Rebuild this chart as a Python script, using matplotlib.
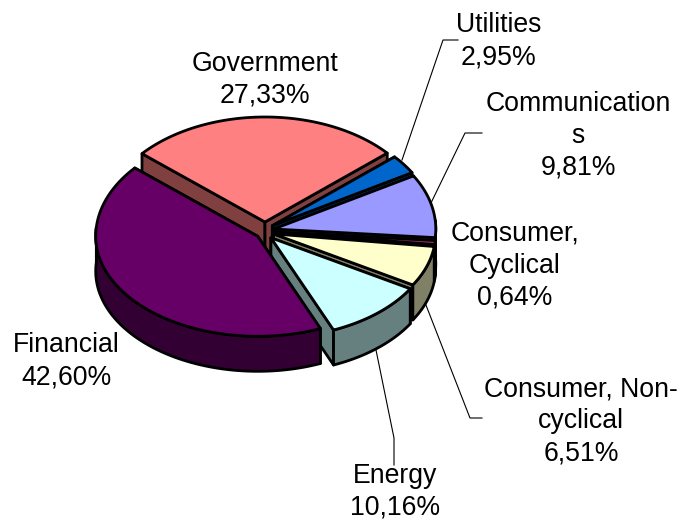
import numpy as np
import matplotlib
matplotlib.use("Agg")
import matplotlib.pyplot as plt

plt.rcParams['font.family'] = ['Liberation Sans', 'DejaVu Sans']

names = ["Utilities", "Communication\ns", "Consumer,\nCyclical", "Consumer, Non-\ncyclical",
         "Energy", "Financial", "Government"]
values = [2.95, 9.81, 0.64, 6.51, 10.16, 42.60, 27.33]
top_colors = ["#0066CC", "#9999FF", "#993366", "#FFFFCC", "#CCFFFF", "#660066", "#FF8080"]
side_colors = ["#003366", "#4D4D80", "#4D1A33", "#808066", "#668080", "#330033", "#804040"]
label_xy = [(499, 41), (578, 136), (515, 266), (581, 421), (395, 492), (66, 361), (265, 80)]
leaders = [[(458, 40), (443, 40), (402, 160)],
           [(482, 133), (465, 133), (430, 205)],
           [(424, 300), (470, 418), (482, 418)],
           [(376, 350), (394, 438), (394, 465)]]

START = 49.0
CX, CY = 265.0, 231.0
RX, RY_BACK, RY_FRONT = 162.0, 105.0, 100.0
EXPLODE = 9.0
DEPTH = 35.0
DRAW_ORDER = [6, 0, 1, 2, 3, 4, 5]

fig = plt.figure(figsize=(6.81, 5.2), dpi=100)
ax = fig.add_axes([0, 0, 1, 1])
ax.set_xlim(0, 681)
ax.set_ylim(520, 0)
ax.axis("off")

for pts in leaders:
    ax.plot(*zip(*pts), color="black", lw=0.8, zorder=1, solid_joinstyle="miter")

cum = START + np.concatenate([[0], np.cumsum(values)]) * 3.6


def rim(ang, ax0, ay0):
    a = np.radians(ang)
    ry = np.where(np.cos(a) >= 0, RY_BACK, RY_FRONT)
    return ax0 + RX * np.sin(a), ay0 - ry * np.cos(a)


z = 2
for i in DRAW_ORDER:
    a0, a1 = cum[i], cum[i + 1]
    mid = np.radians((a0 + a1) / 2)
    px = CX + EXPLODE * np.sin(mid)
    py = CY - EXPLODE * np.cos(mid)
    t = np.linspace(a0, a1, max(int(a1 - a0) * 2, 4))
    xs, ys = rim(t, px, py)
    style = dict(edgecolor="black", lw=2.0, joinstyle="round", zorder=z)
    # radial walls
    for ex, ey in ((xs[0], ys[0]), (xs[-1], ys[-1])):
        ax.fill([px, ex, ex, px], [py, ey, ey + DEPTH, py + DEPTH],
                facecolor=side_colors[i], **style)
    # outer wall: only the part of the rim that faces the viewer
    front = (np.mod(t, 360) >= 85) & (np.mod(t, 360) <= 275)
    if front.sum() > 1:
        fx, fy = xs[front], ys[front]
        ax.fill(np.r_[fx, fx[::-1]], np.r_[fy, fy[::-1] + DEPTH],
                facecolor=side_colors[i], **style)
    # top face
    ax.fill(np.r_[px, xs], np.r_[py, ys], facecolor=top_colors[i], **style)
    z += 1

for name, v, (lx, ly) in zip(names, values, label_xy):
    label = f"{name}\n{v:.2f}%".replace(".", ",")
    ax.text(lx, ly, label, ha="center", va="center", fontsize=19.2,
            color="black", linespacing=1.3, zorder=50)

fig.savefig("out.png", dpi=100)
